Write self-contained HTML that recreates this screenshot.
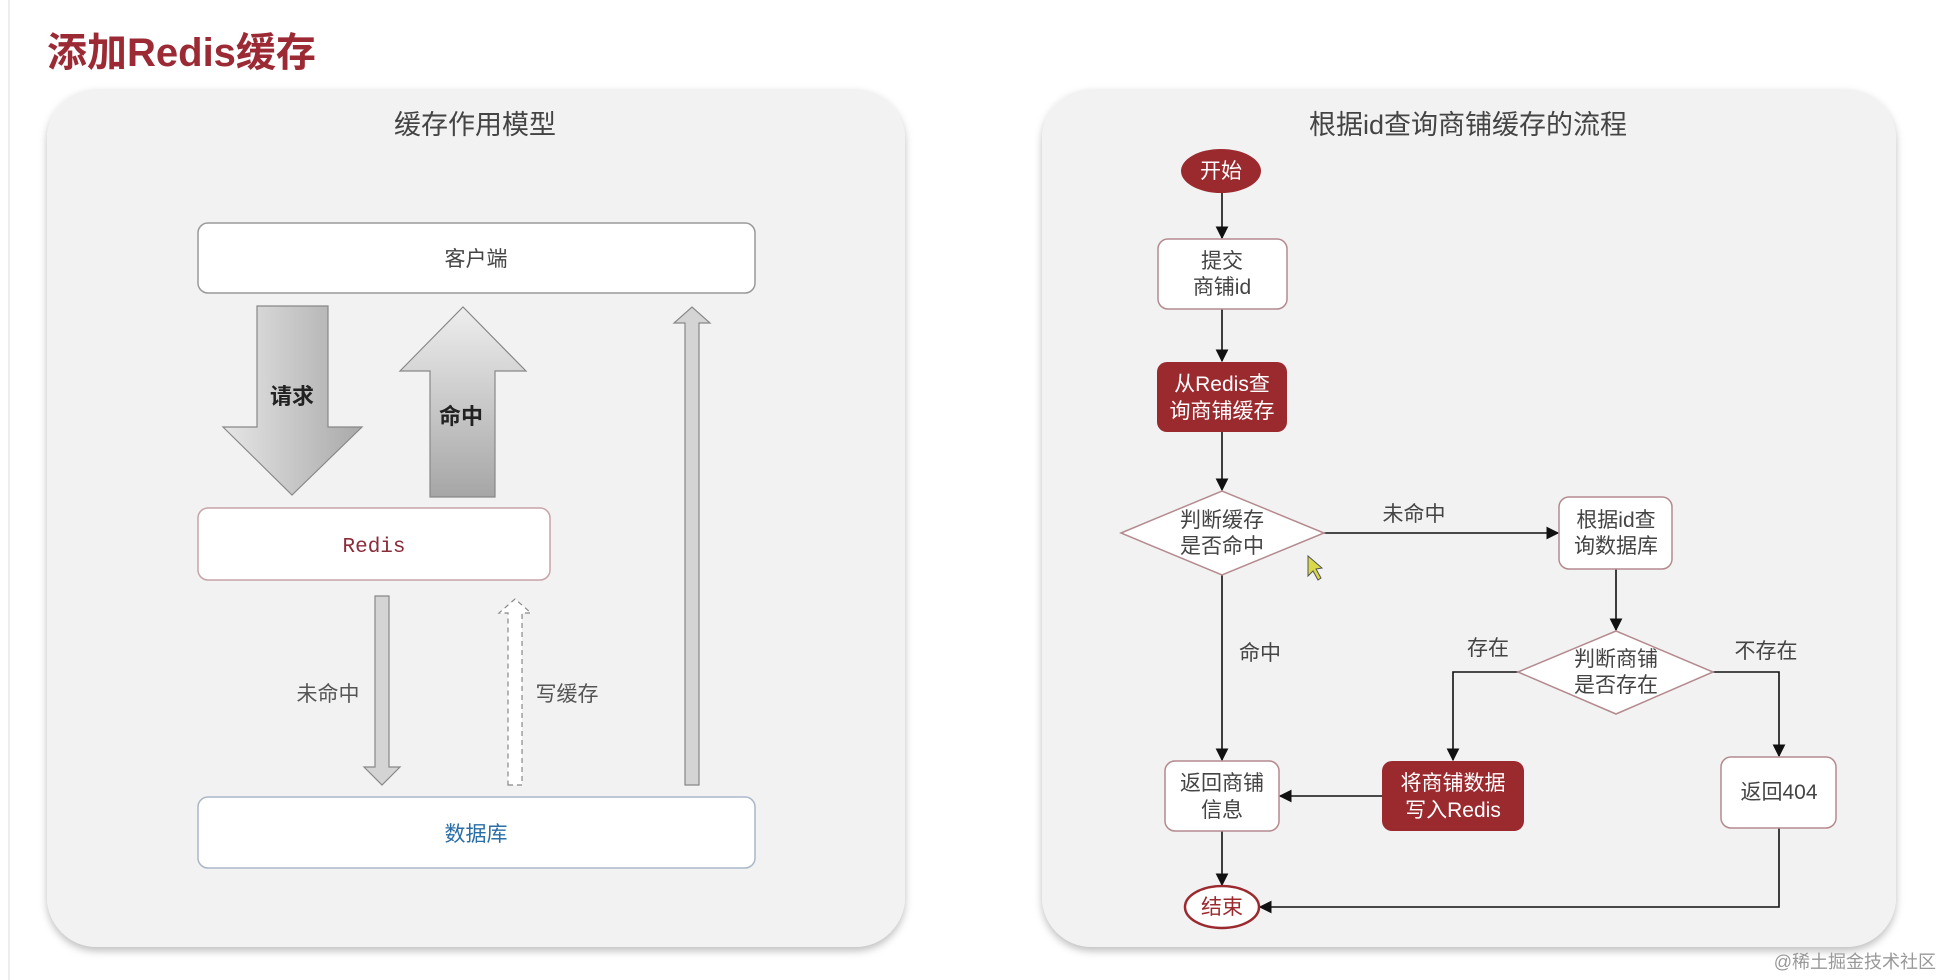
<!DOCTYPE html>
<html><head><meta charset="utf-8"><style>
body{margin:0;width:1940px;height:980px;background:#fff;overflow:hidden;font-family:"Liberation Sans","Noto Sans CJK SC",sans-serif;}
</style></head><body>
<svg width="1940" height="980" xmlns="http://www.w3.org/2000/svg" style="position:absolute;left:0;top:0;font-family:'Liberation Sans','Noto Sans CJK SC',sans-serif">
<defs>
<linearGradient id="g1" x1="0" y1="0" x2="1" y2="0"><stop offset="0" stop-color="#e6e6e6"/><stop offset="1" stop-color="#a9a9a9"/></linearGradient>
<linearGradient id="g2" x1="0" y1="0" x2="0" y2="1"><stop offset="0" stop-color="#eeeeee"/><stop offset="1" stop-color="#a6a6a6"/></linearGradient>
<filter id="sh" x="-5%" y="-5%" width="110%" height="110%"><feDropShadow dx="0" dy="4" stdDeviation="4" flood-color="#000" flood-opacity="0.25"/></filter>
<marker id="ar" viewBox="0 0 10 10" refX="9" refY="5" markerWidth="8" markerHeight="8" orient="auto"><path d="M0,0 L10,5 L0,10 z" fill="#111"/></marker>
</defs>
<line x1="9" y1="0" x2="9" y2="980" stroke="#eee" stroke-width="2"/>
<text x="47" y="66" font-size="40" font-weight="bold" fill="#9b2a35">添加Redis缓存</text>
<rect x="47" y="89" width="858" height="858" rx="50" fill="#f2f2f2" filter="url(#sh)"/>
<rect x="1042" y="89" width="854" height="858" rx="50" fill="#f2f2f2" filter="url(#sh)"/>
<text x="475" y="134" font-size="27" fill="#444" text-anchor="middle">缓存作用模型</text>
<text x="1468" y="134" font-size="27" fill="#444" text-anchor="middle">根据id查询商铺缓存的流程</text>
<!-- left boxes -->
<rect x="198" y="223" width="557" height="70" rx="10" fill="#fff" stroke="#999" stroke-width="1.5"/>
<text x="476" y="266" font-size="21" fill="#444" text-anchor="middle">客户端</text>
<rect x="198" y="508" width="352" height="72" rx="10" fill="#fff" stroke="#c9a3a7" stroke-width="1.5"/>
<text x="374" y="552" font-size="21" fill="#8a2c3a" text-anchor="middle" font-family="Liberation Mono,monospace">Redis</text>
<rect x="198" y="797" width="557" height="71" rx="10" fill="#fff" stroke="#a9b7c9" stroke-width="1.5"/>
<text x="476" y="841" font-size="21" fill="#2a6ea6" text-anchor="middle">数据库</text>
<!-- big arrows -->
<path d="M257,306 L328,306 L328,427 L362,427 L292,495 L223,427 L257,427 Z" fill="url(#g1)" stroke="#888" stroke-width="1.2"/>
<text x="292" y="404" font-size="22" font-weight="bold" fill="#222" text-anchor="middle">请求</text>
<path d="M430,497 L495,497 L495,371 L526,371 L463,307 L400,371 L430,371 Z" fill="url(#g2)" stroke="#888" stroke-width="1.2"/>
<text x="461" y="424" font-size="22" font-weight="bold" fill="#222" text-anchor="middle">命中</text>
<path d="M375,596 L389,596 L389,767 L400,767 L382,785 L364,767 L375,767 Z" fill="#d4d4d4" stroke="#888" stroke-width="1.2"/>
<text x="328" y="701" font-size="21" fill="#555" text-anchor="middle">未命中</text>
<path d="M508,785 L522,785 L522,613 L531,613 L515,599 L499,613 L508,613 Z" fill="#fff" stroke="#888" stroke-width="1.2" stroke-dasharray="5,4"/>
<text x="567" y="701" font-size="21" fill="#555" text-anchor="middle">写缓存</text>
<path d="M685,785 L699,785 L699,323 L710,323 L692,307 L674,323 L685,323 Z" fill="#d4d4d4" stroke="#888" stroke-width="1.2"/>
<!-- flowchart -->
<g stroke="#111" stroke-width="1.6" fill="none">
<line x1="1222" y1="193" x2="1222" y2="238" marker-end="url(#ar)"/>
<line x1="1222" y1="309" x2="1222" y2="361" marker-end="url(#ar)"/>
<line x1="1222" y1="432" x2="1222" y2="490" marker-end="url(#ar)"/>
<line x1="1324" y1="533" x2="1558" y2="533" marker-end="url(#ar)"/>
<line x1="1222" y1="575" x2="1222" y2="760" marker-end="url(#ar)"/>
<line x1="1616" y1="569" x2="1616" y2="630" marker-end="url(#ar)"/>
<polyline points="1518,672 1453,672 1453,760" marker-end="url(#ar)"/>
<polyline points="1713,672 1779,672 1779,756" marker-end="url(#ar)"/>
<line x1="1382" y1="796" x2="1280" y2="796" marker-end="url(#ar)"/>
<line x1="1222" y1="831" x2="1222" y2="885" marker-end="url(#ar)"/>
<polyline points="1779,828 1779,907 1260,907" marker-end="url(#ar)"/>
</g>
<g font-size="21" text-anchor="middle">
<ellipse cx="1221" cy="171" rx="40" ry="22" fill="#9b2a2f"/>
<text x="1221" y="178" fill="#fff">开始</text>
<rect x="1158" y="239" width="129" height="70" rx="10" fill="#fff" stroke="#b48a8f" stroke-width="1.5"/>
<text x="1222" y="268" fill="#444">提交</text><text x="1222" y="294" fill="#444">商铺id</text>
<rect x="1157" y="362" width="130" height="70" rx="10" fill="#9b2a2f"/>
<text x="1222" y="391" fill="#fff">从Redis查</text><text x="1222" y="418" fill="#fff">询商铺缓存</text>
<polygon points="1121,533 1222,491 1324,533 1222,575" fill="#fff" stroke="#b48a8f" stroke-width="1.5"/>
<text x="1222" y="527" fill="#444">判断缓存</text><text x="1222" y="553" fill="#444">是否命中</text>
<rect x="1559" y="497" width="113" height="72" rx="10" fill="#fff" stroke="#b48a8f" stroke-width="1.5"/>
<text x="1616" y="527" fill="#444">根据id查</text><text x="1616" y="553" fill="#444">询数据库</text>
<polygon points="1518,672 1616,631 1713,672 1616,714" fill="#fff" stroke="#b48a8f" stroke-width="1.5"/>
<text x="1616" y="666" fill="#444">判断商铺</text><text x="1616" y="692" fill="#444">是否存在</text>
<rect x="1165" y="761" width="114" height="70" rx="10" fill="#fff" stroke="#b48a8f" stroke-width="1.5"/>
<text x="1222" y="790" fill="#444">返回商铺</text><text x="1222" y="817" fill="#444">信息</text>
<rect x="1382" y="761" width="142" height="70" rx="10" fill="#9b2a2f"/>
<text x="1453" y="790" fill="#fff">将商铺数据</text><text x="1453" y="817" fill="#fff">写入Redis</text>
<rect x="1721" y="757" width="115" height="71" rx="10" fill="#fff" stroke="#b48a8f" stroke-width="1.5"/>
<text x="1779" y="799" fill="#444">返回404</text>
<ellipse cx="1222" cy="907" rx="37" ry="21" fill="#fff" stroke="#9b2a2f" stroke-width="2.5"/>
<text x="1222" y="914" fill="#9b2a2f">结束</text>
<text x="1414" y="521" fill="#444">未命中</text>
<text x="1260" y="660" fill="#444">命中</text>
<text x="1488" y="655" fill="#444">存在</text>
<text x="1766" y="658" fill="#444">不存在</text>
</g>
<path d="M1308,556 L1308,576 L1313,571 L1318,580 L1321,578 L1316,569 L1322,568 Z" fill="#d8d84a" stroke="#555" stroke-width="1"/>
<text x="1936" y="968" font-size="18" fill="#999" text-anchor="end">@稀土掘金技术社区</text>
</svg>
</body></html>
